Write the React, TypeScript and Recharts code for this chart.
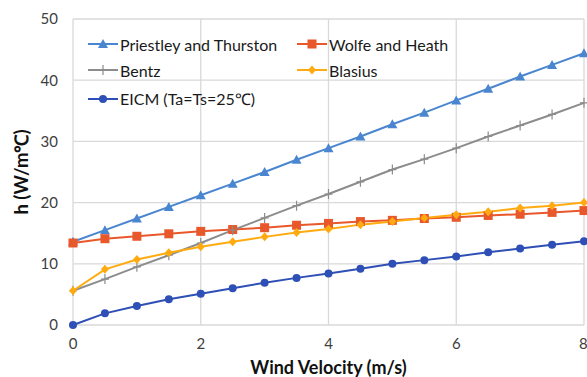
import { LineChart, Line, XAxis, YAxis, CartesianGrid, Label } from 'recharts';

const velocity = [0, 0.5, 1, 1.5, 2, 2.5, 3, 3.5, 4, 4.5, 5, 5.5, 6, 6.5, 7, 7.5, 8];
const priestley = [13.6, 15.5, 17.4, 19.3, 21.2, 23.1, 25.0, 27.0, 28.9, 30.8, 32.8, 34.7, 36.7, 38.6, 40.6, 42.5, 44.4];
const wolfe = [13.4, 14.1, 14.5, 14.9, 15.3, 15.6, 15.9, 16.3, 16.6, 16.9, 17.1, 17.4, 17.6, 17.9, 18.1, 18.4, 18.7];
const bentz = [5.6, 7.5, 9.5, 11.4, 13.4, 15.5, 17.5, 19.5, 21.4, 23.4, 25.4, 27.1, 28.9, 30.8, 32.6, 34.4, 36.3];
const blasius = [5.6, 9.1, 10.7, 11.8, 12.8, 13.6, 14.4, 15.1, 15.7, 16.4, 16.9, 17.5, 18.0, 18.5, 19.1, 19.5, 20.0];
const eicm = [0, 1.9, 3.1, 4.2, 5.1, 6.0, 6.9, 7.7, 8.4, 9.2, 10.0, 10.6, 11.2, 11.9, 12.5, 13.1, 13.7];

const xTicks = [0, 2, 4, 6, 8];
const yTicks = [0, 10, 20, 30, 40, 50];

const FONT = 'Lato, "Open Sans", sans-serif';

const data = velocity.map((v, i) => ({
  v,
  priestley: priestley[i],
  wolfe: wolfe[i],
  bentz: bentz[i],
  blasius: blasius[i],
  eicm: eicm[i],
}));

type Shape = 'triangle' | 'square' | 'plus' | 'diamond' | 'circle';

function Marker({ cx, cy, shape, color }: { cx: number; cy: number; shape: Shape; color: string }) {
  if (cx == null || cy == null) return null;
  switch (shape) {
    case 'triangle':
      return <path d={`M${cx},${cy - 5} L${cx + 5},${cy + 4} L${cx - 5},${cy + 4} Z`} fill={color} />;
    case 'square':
      return <rect x={cx - 4.5} y={cy - 4.5} width={9} height={9} fill={color} />;
    case 'plus':
      return <path d={`M${cx},${cy - 5} L${cx},${cy + 5} M${cx - 4},${cy} L${cx + 4},${cy}`} stroke={color} strokeWidth={1.2} />;
    case 'diamond':
      return <path d={`M${cx},${cy - 4.5} L${cx + 4},${cy} L${cx},${cy + 4.5} L${cx - 4},${cy} Z`} fill={color} />;
    default:
      return <circle cx={cx} cy={cy} r={4} fill={color} />;
  }
}

const series: { key: string; name: string; color: string; shape: Shape }[] = [
  { key: 'priestley', name: 'Priestley and Thurston', color: '#4a86d0', shape: 'triangle' },
  { key: 'wolfe', name: 'Wolfe and Heath', color: '#e8582a', shape: 'square' },
  { key: 'bentz', name: 'Bentz', color: '#8c8c8c', shape: 'plus' },
  { key: 'blasius', name: 'Blasius', color: '#ffab10', shape: 'diamond' },
  { key: 'eicm', name: 'EICM (Ta=Ts=25℃)', color: '#2e4fb5', shape: 'circle' },
];

// legend placement inside the plot (left, center y)
const legendPos = [
  [88, 44],
  [297, 44],
  [88, 70],
  [297, 70],
  [88, 99],
];

function LegendBox() {
  return (
    <>
      {series.map((s, i) => (
        <div
          key={s.key}
          style={{
            position: 'absolute',
            left: legendPos[i][0],
            top: legendPos[i][1] - 12,
            height: 24,
            display: 'flex',
            alignItems: 'center',
            whiteSpace: 'nowrap',
          }}
        >
          <svg width={30} height={12} style={{ marginRight: 2 }}>
            <line x1={0} y1={6} x2={30} y2={6} stroke={s.color} strokeWidth={2} />
            <Marker cx={15} cy={6} shape={s.shape} color={s.color} />
          </svg>
          <span style={{ fontSize: 16, color: '#1a1a1a', fontFamily: FONT }}>{s.name}</span>
        </div>
      ))}
    </>
  );
}

export default function App() {
  return (
    <div style={{ position: 'absolute', left: 0, top: 0, width: 587, height: 377, background: '#fff' }}>
      <LineChart width={587} height={377} data={data} margin={{ top: 19, right: 3, left: 0, bottom: 0 }}>
        <CartesianGrid stroke="#d9d9d9" strokeWidth={1.3} horizontalValues={yTicks} verticalValues={xTicks} />
        <XAxis
          dataKey="v"
          type="number"
          domain={[0, 8]}
          ticks={xTicks}
          height={52}
          axisLine={false}
          tickLine={false}
          tickSize={0}
          tickMargin={13}
          tick={{ fontSize: 15, fill: '#404040', fontFamily: FONT }}
        >
          <Label
            value="Wind Velocity (m/s)"
            position="insideBottom"
            offset={3}
            style={{ fontSize: 18, fontWeight: 700, fill: '#111', fontFamily: FONT }}
          />
        </XAxis>
        <YAxis
          type="number"
          domain={[0, 50]}
          ticks={yTicks}
          width={73}
          axisLine={false}
          tickLine={false}
          tickSize={0}
          tickMargin={15}
          tick={{ fontSize: 15, fill: '#404040', fontFamily: FONT }}
        >
          <Label
            value="h (W/m℃)"
            angle={-90}
            position="insideLeft"
            offset={21}
            style={{ textAnchor: 'middle', fontSize: 18.5, fontWeight: 700, fill: '#111', fontFamily: FONT }}
          />
        </YAxis>
        {series.map((s) => (
          <Line
            key={s.key}
            dataKey={s.key}
            name={s.name}
            stroke={s.color}
            strokeWidth={2}
            isAnimationActive={false}
            dot={(p: any) => <Marker key={`${s.key}-${p.index}`} cx={p.cx} cy={p.cy} shape={s.shape} color={s.color} />}
          />
        ))}
      </LineChart>
      <LegendBox />
    </div>
  );
}
